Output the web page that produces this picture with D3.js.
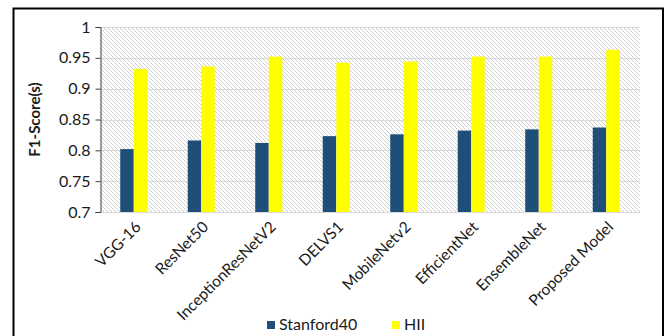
<!DOCTYPE html>
<html>
<head>
<meta charset="utf-8">
<script src="https://cdn.jsdelivr.net/npm/d3@7"></script>
<style>
  html, body { margin: 0; padding: 0; background: #fff; }
  svg { display: block; }
  text { font-family: Lato, "Open Sans", sans-serif; fill: #1a1a1a; }
</style>
</head>
<body>
<svg id="chart" width="668" height="336"></svg>
<script>
// Model names along the x axis
const models = ["VGG-16", "ResNet50", "InceptionResNetV2", "DELVS1", "MobileNetv2", "EfficientNet", "EnsembleNet", "Proposed Model"];
// F1-scores per dataset
const stanford40 = [0.802, 0.816, 0.812, 0.823, 0.826, 0.832, 0.834, 0.837];
const hii = [0.932, 0.936, 0.952, 0.942, 0.944, 0.952, 0.952, 0.963];
const seriesNames = ["Stanford40", "HII"];
const seriesColors = ["#1f4e79", "#ffff00"];
const yTicks = [0.7, 0.75, 0.8, 0.85, 0.9, 0.95, 1];

const svg = d3.select("#chart");
const plot = { left: 100, right: 640, top: 27, bottom: 212 };

// outer frame
svg.append("rect")
  .attr("x", 13.5).attr("y", 8.5)
  .attr("width", 649.5).attr("height", 340)
  .attr("fill", "#fff").attr("stroke", "#000").attr("stroke-width", 2);

// hatched plot background
const defs = svg.append("defs");
const pat = defs.append("pattern")
  .attr("id", "hatch").attr("patternUnits", "userSpaceOnUse")
  .attr("width", 4).attr("height", 4);
pat.append("rect").attr("width", 4).attr("height", 4).attr("fill", "#fff");
pat.append("path").attr("d", "M-1,-1 L5,5 M-1,3 L1,5 M3,-1 L5,1")
  .attr("stroke", "#cfcfcf").attr("stroke-width", 1);

const x = d3.scaleBand().domain(models).range([plot.left, plot.right]);
const y = d3.scaleLinear().domain([0.7, 1]).range([plot.bottom, plot.top]);

svg.append("rect")
  .attr("x", plot.left).attr("y", plot.top)
  .attr("width", plot.right - plot.left).attr("height", plot.bottom - plot.top)
  .attr("fill", "url(#hatch)");

// horizontal gridlines
svg.append("g").selectAll("line")
  .data(yTicks.filter(t => t > 0.7))
  .join("line")
  .attr("x1", plot.left).attr("x2", plot.right)
  .attr("y1", d => Math.round(y(d)) + 0.5).attr("y2", d => Math.round(y(d)) + 0.5)
  .attr("stroke", "#d9d9d9").attr("stroke-width", 1);

// bars
const barW = x.bandwidth() * 0.2;
const series = [stanford40, hii];
series.forEach((vals, si) => {
  svg.append("g").selectAll("rect")
    .data(vals)
    .join("rect")
    .attr("x", (d, i) => x(models[i]) + x.bandwidth() / 2 + (si - 1) * barW)
    .attr("y", d => y(d))
    .attr("width", barW)
    .attr("height", d => y(0.7) - y(d))
    .attr("fill", seriesColors[si]);
});

// x axis baseline
svg.append("line")
  .attr("x1", plot.left).attr("x2", plot.right)
  .attr("y1", plot.bottom + 0.5).attr("y2", plot.bottom + 0.5)
  .attr("stroke", "#d9d9d9");

// y axis
const yAxis = d3.axisLeft(y).tickValues(yTicks).tickSize(5).tickPadding(5)
  .tickFormat(d => String(d));
const gy = svg.append("g").attr("transform", `translate(${plot.left + 0.5},0)`).call(yAxis);
gy.select(".domain").attr("stroke", "#404040");
gy.selectAll(".tick line").attr("stroke", "#404040");
gy.selectAll(".tick text").style("font-size", "16px").attr("fill", "#1a1a1a")
  .style("font-family", "Lato, sans-serif");

// y axis title
svg.append("text")
  .attr("transform", `translate(40,${(plot.top + plot.bottom) / 2}) rotate(-90)`)
  .attr("text-anchor", "middle")
  .style("font-size", "15px").style("font-weight", "bold")
  .text("F1-Score(s)");

// rotated category labels
svg.append("g").selectAll("text")
  .data(models)
  .join("text")
  .attr("transform", d => `translate(${x(d) + x.bandwidth() / 2 + 8},${plot.bottom + 16}) rotate(-45)`)
  .attr("text-anchor", "end")
  .style("font-size", "15.5px")
  .text(d => d);

// legend
const legend = svg.append("g").attr("transform", "translate(267,0)");
const legX = [0, 125];
seriesNames.forEach((n, i) => {
  legend.append("rect")
    .attr("x", legX[i]).attr("y", 321).attr("width", 8).attr("height", 8)
    .attr("fill", seriesColors[i]);
  legend.append("text")
    .attr("x", legX[i] + 12).attr("y", 330)
    .style("font-size", "16px")
    .text(n);
});
</script>
</body>
</html>
